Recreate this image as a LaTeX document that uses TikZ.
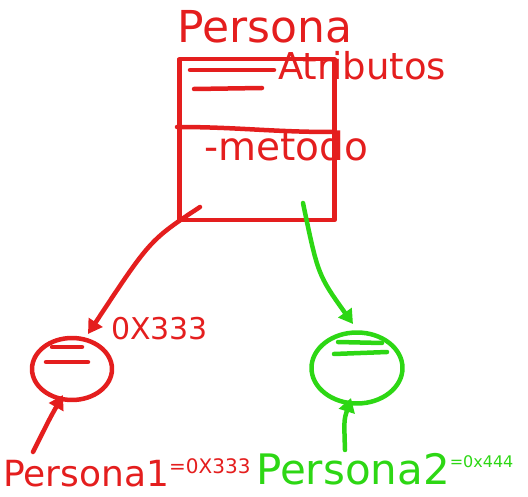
\documentclass[tikz,border=0pt]{standalone}
\usepackage{fontspec}
\setmainfont{DejaVu Sans}
\usetikzlibrary{arrows.meta,shapes.geometric}
\definecolor{penred}{RGB}{228,30,30}
\definecolor{pengreen}{RGB}{45,215,20}
\begin{document}
\begin{tikzpicture}[x=1pt,y=-1pt,
  ink/.style={line width=4.5pt,line cap=round,line join=round},
  label/.style={inner sep=0pt,anchor=base west},
  objcircle/.style={ellipse,draw,ink,minimum width=#1,inner sep=0pt},
  ptr/.style={ink,-{Triangle[length=14pt,width=16pt]}}
]
\useasboundingbox (0,0) rectangle (528,497);

% class box
\node[draw=penred,ink,rectangle,minimum width=155pt,minimum height=161pt,anchor=north west,inner sep=0pt] (cls) at (177,57) {};
\coordinate (divL) at (177,127);
\coordinate (divR) at (332,132);
\draw[penred,ink] (divL) to[out=0,in=180] (divR);
\node[label,text=penred,font=\fontsize{44}{44}\selectfont,anchor=base] (title) at (265,43) {Persona};
\coordinate (a1s) at (190,70); \coordinate (a1e) at (274,70);
\coordinate (a2s) at (194,89); \coordinate (a2e) at (262,88);
\draw[penred,ink] (a1s) -- (a1e);
\draw[penred,ink] (a2s) -- (a2e);
\node[label,text=penred,font=\fontsize{37}{37}\selectfont] (attrs) at (278,80) {Atributos};
\node[label,text=penred,font=\fontsize{39}{39}\selectfont] (meth) at (204,161) {-metodo};

% objects
\node[objcircle=80pt,minimum height=62pt,draw=penred] (o1) at (72,369) {};
\draw[penred,ink] (52,347) -- (82,347);
\draw[penred,ink] (46,362) -- (88,362);
\node[objcircle=91pt,minimum height=71pt,draw=pengreen] (o2) at (357,368) {};
\draw[pengreen,ink] (338,342) -- (382,343);
\draw[pengreen,ink] (334,354) -- (387,352);

% references from class to objects
\coordinate (r0) at (200,207);
\coordinate (r1) at (88,334);
\draw[penred,ptr] (r0) .. controls (150,240) .. (r1);
\node[label,text=penred,font=\fontsize{30}{30}\selectfont] (addr1) at (111,340) {0X333};
\coordinate (g0) at (303,203);
\coordinate (g1) at (353,324);
\draw[pengreen,ptr] (g0) .. controls (318,275) .. (g1);

% variables
\node[label,text=penred,font=\fontsize{36}{36}\selectfont] (v1) at (3,486) {Persona1\fontsize{20}{20}\selectfont\raisebox{13pt}{=0X333}};
\node[label,text=pengreen,font=\fontsize{42}{42}\selectfont] (v2) at (256,484) {Persona2\fontsize{16}{16}\selectfont\raisebox{17pt}{=0x444}};
\coordinate (p1) at (33,452);
\coordinate (p1t) at (63,395);
\coordinate (p2) at (345,450);
\coordinate (p2t) at (351,398);
\draw[penred,ptr] (p1) .. controls (50,418) .. (p1t);
\draw[pengreen,ptr] (p2) .. controls (344,420) .. (p2t);
\end{tikzpicture}
\end{document}
